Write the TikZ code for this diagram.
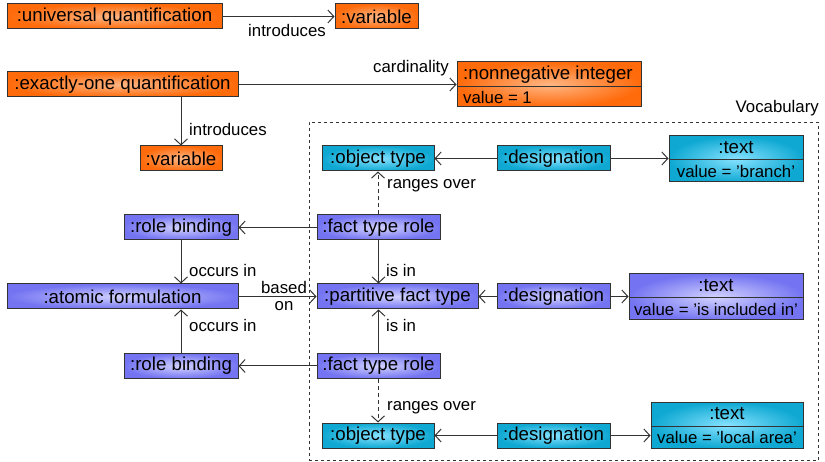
\documentclass[tikz,border=0pt]{standalone}
\usepackage{fontspec}
\setmainfont{Liberation Sans}
\usetikzlibrary{arrows.meta}
\definecolor{orOut}{HTML}{FF6A0A}
\definecolor{orIn}{HTML}{FFB684}
\definecolor{buOut}{HTML}{7474F2}
\definecolor{buIn}{HTML}{D2D2FF}
\definecolor{cyOut}{HTML}{0EA8D2}
\definecolor{cyIn}{HTML}{86E2FF}
\definecolor{edge}{HTML}{333333}
\tikzset{
  box/.style={draw=edge, line width=1pt, rectangle, inner sep=0pt,
    minimum height=25pt, font=\fontsize{18.7}{20}\selectfont},
  obox/.style={box, inner color=orIn, outer color=orOut},
  bbox/.style={box, inner color=buIn, outer color=buOut},
  cbox/.style={box, inner color=cyIn, outer color=cyOut},
  ttl/.style={inner sep=0pt, font=\fontsize{18.7}{20}\selectfont},
  val/.style={inner sep=0pt, font=\fontsize{16.8}{18}\selectfont},
  lbl/.style={inner sep=0pt, font=\fontsize{16.8}{18}\selectfont},
  link/.style={draw=edge, line width=1pt, -{Straight Barb[length=6pt,width=13pt,line width=1pt]}},
  dlink/.style={link, dash pattern=on 4pt off 3pt},
}
\begin{document}
\begin{tikzpicture}[x=1pt,y=-1pt]
\useasboundingbox (0,0) rectangle (825,462);

% quantifications and their variables
\node[obox, minimum width=215pt] (uq) at (114.5,16.5) {:universal quantification};
\node[obox, minimum width=83pt] (var1) at (376.5,16.5) {:variable};
\node[obox, minimum width=231pt] (eoq) at (122.5,84.5) {:exactly-one quantification};
\node[obox, minimum width=82pt] (var2) at (181,158.5) {:variable};

% nonnegative integer with its value
\node[obox, minimum width=184pt, minimum height=45pt] (nn) at (549,84.5) {};
\draw[edge, line width=1pt] (nn.west |- 0,87) coordinate (nnL) -- (nn.east |- 0,87) coordinate (nnR);
\node[ttl, anchor=west] (nnT) at (463,74.5) {:nonnegative integer};
\node[val, anchor=west] (nnV) at (463,97) {value = 1};

% vocabulary frame
\node[draw=edge, line width=1pt, dash pattern=on 3pt off 3pt, minimum width=509pt,
      minimum height=338pt, inner sep=0pt] (vocab) at (563.5,291.5) {};
\node[lbl, anchor=south east] (vocabT) at (819,116) {Vocabulary};

% first row of the vocabulary
\node[cbox, minimum width=112pt] (ot1) at (378,158.5) {:object type};
\node[cbox, minimum width=113pt] (des1) at (553.5,158.5) {:designation};
\node[cbox, minimum width=134pt, minimum height=46pt] (txt1) at (736,159) {};
\draw[edge, line width=1pt] (txt1.west |- 0,160) -- (txt1.east |- 0,160);
\node[ttl] (txt1T) at (736,148) {:text};
\node[val] (txt1V) at (736,171.5) {value = 'branch'};

% roles and bindings
\node[bbox, minimum width=114pt] (rb1) at (181,227.5) {:role binding};
\node[bbox, minimum width=123pt] (ftr1) at (378.5,227.5) {:fact type role};
\node[bbox, minimum width=231pt] (af) at (122.5,296.5) {:atomic formulation};
\node[bbox, minimum width=161pt] (pft) at (397.5,296.5) {:partitive fact type};
\node[bbox, minimum width=113pt] (des2) at (553.5,296.5) {:designation};
\node[bbox, minimum width=174pt, minimum height=46pt] (txt2) at (716,297) {};
\draw[edge, line width=1pt] (txt2.west |- 0,298) -- (txt2.east |- 0,298);
\node[ttl] (txt2T) at (716,286) {:text};
\node[val] (txt2V) at (716,309.5) {value = 'is included in'};
\node[bbox, minimum width=114pt] (rb2) at (181,366) {:role binding};
\node[bbox, minimum width=123pt] (ftr2) at (378.5,366) {:fact type role};

% last row of the vocabulary
\node[cbox, minimum width=112pt] (ot2) at (378,435.5) {:object type};
\node[cbox, minimum width=113pt] (des3) at (553.5,435.5) {:designation};
\node[cbox, minimum width=152pt, minimum height=46pt] (txt3) at (727,425) {};
\draw[edge, line width=1pt] (txt3.west |- 0,426) -- (txt3.east |- 0,426);
\node[ttl] (txt3T) at (727,414) {:text};
\node[val] (txt3V) at (727,437.5) {value = 'local area'};

% connectors
\draw[link] (uq) -- (var1);
\node[lbl] (l1) at (287,30.5) {introduces};
\draw[link] (eoq) -- (nn.west |- eoq);
\node[lbl] (l2) at (411,68.5) {cardinality};
\draw[link] (eoq.south -| var2.north) -- (var2.north);
\node[lbl, anchor=west] (l3) at (189,129.5) {introduces};

\draw[link] (des1) -- (ot1);
\draw[link] (des1) -- (txt1.west |- des1);
\draw[dlink] (ftr1.north -| ot1.south) -- (ot1.south);
\node[lbl, anchor=west] (l4) at (387,186) {ranges over};

\draw[link] (ftr1) -- (rb1);
\draw[link] (rb1.south) -- (rb1.south |- af.north);
\node[lbl, anchor=west] (l5) at (189,270) {occurs in};
\draw[link] (ftr1.south) -- (ftr1.south |- pft.north);
\node[lbl, anchor=west] (l6) at (386,270) {is in};

\draw[link] (af) -- (pft);
\node[lbl] (l7) at (284,287) {based};
\node[lbl] (l8) at (284,306) {on};
\draw[link] (des2) -- (pft);
\draw[link] (des2) -- (txt2.west |- des2);

\draw[link] (rb2.north) -- (rb2.north |- af.south);
\node[lbl, anchor=west] (l9) at (189,325) {occurs in};
\draw[link] (ftr2.north) -- (ftr2.north |- pft.south);
\node[lbl, anchor=west] (l10) at (386,325) {is in};
\draw[link] (ftr2) -- (rb2);

\draw[dlink] (ftr2.south -| ot2.north) -- (ot2.north);
\node[lbl, anchor=west] (l11) at (387,408) {ranges over};
\draw[link] (des3) -- (ot2);
\draw[link] (des3) -- (txt3.west |- des3);
\end{tikzpicture}
\end{document}
